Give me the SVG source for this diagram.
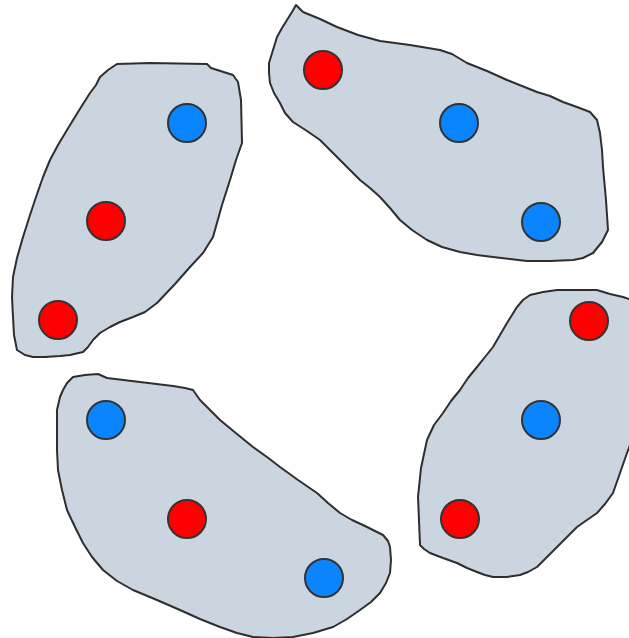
<svg xmlns="http://www.w3.org/2000/svg" width="629" height="638" viewBox="0 0 629 638">
<style>
.blob{fill:#cbd5df;stroke:#2e2e2e;stroke-width:2;stroke-linejoin:round}
.n{stroke:#333;stroke-width:2}
.r{fill:#ff0000}
.b{fill:#0b85ff}
</style>
<rect width="629" height="638" fill="#fff"/>
<g id="cluster1">
<path class="blob" d="M117,64 L150,63 L207,64 L211,68 L233,75 L238,82 L241,100 L242,143 L236,160 L230,180 L222,205 L213,237 L203,253 L190,267 L175,284 L157,303 L145,312 L133,317 L120,322 L110,327 L100,333 L93,340 L88,347 L83,352 L70,355 L60,356 L45,357 L33,357 L25,355 L17,350 L14,335 L13,317 L12,297 L13,277 L17,258 L23,237 L30,215 L36,197 L43,177 L50,160 L58,145 L67,130 L78,112 L90,93 L96,85 L100,77 L108,70 Z"/>
<circle id="c1a" class="n b" cx="187" cy="123" r="19"/>
<circle id="c1b" class="n r" cx="106" cy="221" r="19"/>
<circle id="c1c" class="n r" cx="58" cy="320" r="19"/>
</g>
<g id="cluster2">
<path class="blob" d="M296,5 L303,12 L320,19 L337,27 L358,35 L380,41 L410,45 L440,50 L452,54 L467,63 L487,71 L507,80 L522,86 L537,92 L550,96 L563,102 L577,107 L590,112 L597,120 L600,133 L602,150 L603,167 L606,200 L608,230 L602,242 L593,253 L583,258 L573,260 L550,261 L527,261 L510,259 L493,257 L477,255 L460,252 L442,247 L427,240 L412,230 L400,220 L390,208 L380,197 L370,188 L360,180 L348,168 L337,157 L328,148 L320,140 L307,131 L293,122 L285,113 L280,103 L274,93 L270,83 L269,73 L269,63 L273,50 L277,37 L282,28 L287,20 L292,12 Z"/>
<circle id="c2a" class="n r" cx="323" cy="70" r="19"/>
<circle id="c2b" class="n b" cx="459" cy="123" r="19"/>
<circle id="c2c" class="n b" cx="541" cy="222" r="19"/>
</g>
<g id="cluster3">
<path class="blob" d="M73,377 L85,375 L98,374 L107,378 L140,382 L173,386 L185,388 L193,390 L200,400 L210,410 L220,420 L237,434 L253,447 L267,457 L280,467 L298,480 L317,493 L328,503 L340,513 L352,520 L365,526 L383,535 L388,541 L390,547 L391,560 L390,573 L386,583 L380,593 L371,602 L360,610 L347,619 L333,627 L313,633 L293,637 L273,638 L253,637 L237,633 L220,627 L200,619 L180,610 L157,600 L133,590 L117,581 L103,570 L92,557 L83,543 L75,527 L67,510 L62,490 L58,470 L57,450 L57,427 L57,410 L60,397 L63,390 L67,383 Z"/>
<circle id="c3a" class="n b" cx="106" cy="420" r="19"/>
<circle id="c3b" class="n r" cx="187" cy="519" r="19"/>
<circle id="c3c" class="n b" cx="324" cy="578" r="19"/>
</g>
<g id="cluster4">
<path class="blob" d="M530,295 L543,292 L557,290 L577,290 L597,290 L610,294 L623,297 L632,300 L632,440 L627,453 L620,473 L613,493 L605,504 L597,513 L587,520 L577,527 L567,537 L557,547 L547,557 L537,567 L528,572 L520,575 L507,577 L493,577 L485,575 L477,572 L467,568 L457,563 L443,558 L430,553 L424,549 L420,545 L419,520 L418,497 L421,468 L427,440 L434,425 L443,413 L451,401 L460,390 L468,378 L477,367 L485,357 L493,347 L500,335 L507,323 L512,315 L517,307 L523,300 Z"/>
<circle id="c4a" class="n r" cx="589" cy="321" r="19"/>
<circle id="c4b" class="n b" cx="541" cy="420" r="19"/>
<circle id="c4c" class="n r" cx="460" cy="519" r="19"/>
</g>
</svg>
